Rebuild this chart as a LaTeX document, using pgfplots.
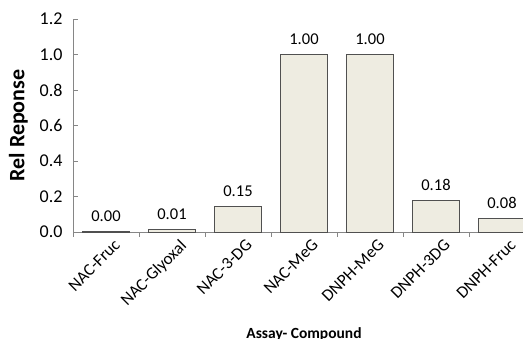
\documentclass[border=0pt]{standalone}
\usepackage{pgfplots}
\pgfplotsset{compat=1.18}
\usepackage{fontspec}
\setmainfont{Carlito}
\definecolor{barfill}{HTML}{EEECE1}
\definecolor{axisgray}{HTML}{868686}
\definecolor{baredge}{HTML}{505050}
\begin{document}
\begin{tikzpicture}[x=1pt,y=1pt]
\useasboundingbox (0,0) rectangle (523,339);
\clip (0,0) rectangle (523,339);
\begin{axis}[
  at={(73pt,107pt)}, anchor=south west,
  scale only axis, width=462pt, height=213pt,
  xmin=-0.5, xmax=6.5, ymin=0, ymax=1.2,
  axis x line*=bottom, axis y line*=left,
  axis line style={axisgray, line width=0.75pt},
  ybar, bar width=46.5pt,
  xtick={0,...,6},
  xticklabels={NAC-Fruc,NAC-Glyoxal,NAC-3-DG,NAC-MeG,DNPH-MeG,DNPH-3DG,DNPH-Fruc},
  major x tick style={draw=none},
  minor xtick={-0.5,0.5,...,6.5},
  tick align=inside,
  minor tick length=5pt, major tick length=5pt,
  minor x tick style={axisgray, line width=0.75pt, yshift=-5pt},
  ytick={0,0.2,...,1.2},
  ytick style={axisgray, line width=0.75pt},
  /pgf/number format/assume math mode=true,
  yticklabel style={font=\fontsize{18}{21}\selectfont, xshift=-7pt,
    /pgf/number format/.cd, fixed, fixed zerofill, precision=1},
  xticklabel style={font=\fontsize{17}{20}\selectfont, rotate=45, anchor=north east, yshift=-6pt, xshift=4pt},
  ylabel={\textbf{Rel Reponse}},
  ylabel style={font=\fontsize{22}{26}\selectfont, at={(axis description cs:-0.118,0.5)}, anchor=center},
  xlabel={\textbf{Assay- Compound}},
  xlabel style={font=\fontsize{15.5}{18}\selectfont, at={(axis description cs:0.5,-0.498)}, anchor=base},
  nodes near coords={\pgfmathprintnumber[fixed,fixed zerofill,precision=2]{\pgfplotspointmeta}},
  nodes near coords style={font=\fontsize{16.5}{19}\selectfont, yshift=6pt, /pgf/number format/assume math mode=true},
  clip=false,
]
\addplot[fill=barfill, draw=baredge, line width=0.75pt] coordinates {
  (0,0.004) (1,0.013) (2,0.146) (3,1.00) (4,1.00) (5,0.179) (6,0.077)
};
\end{axis}
\end{tikzpicture}
\end{document}
